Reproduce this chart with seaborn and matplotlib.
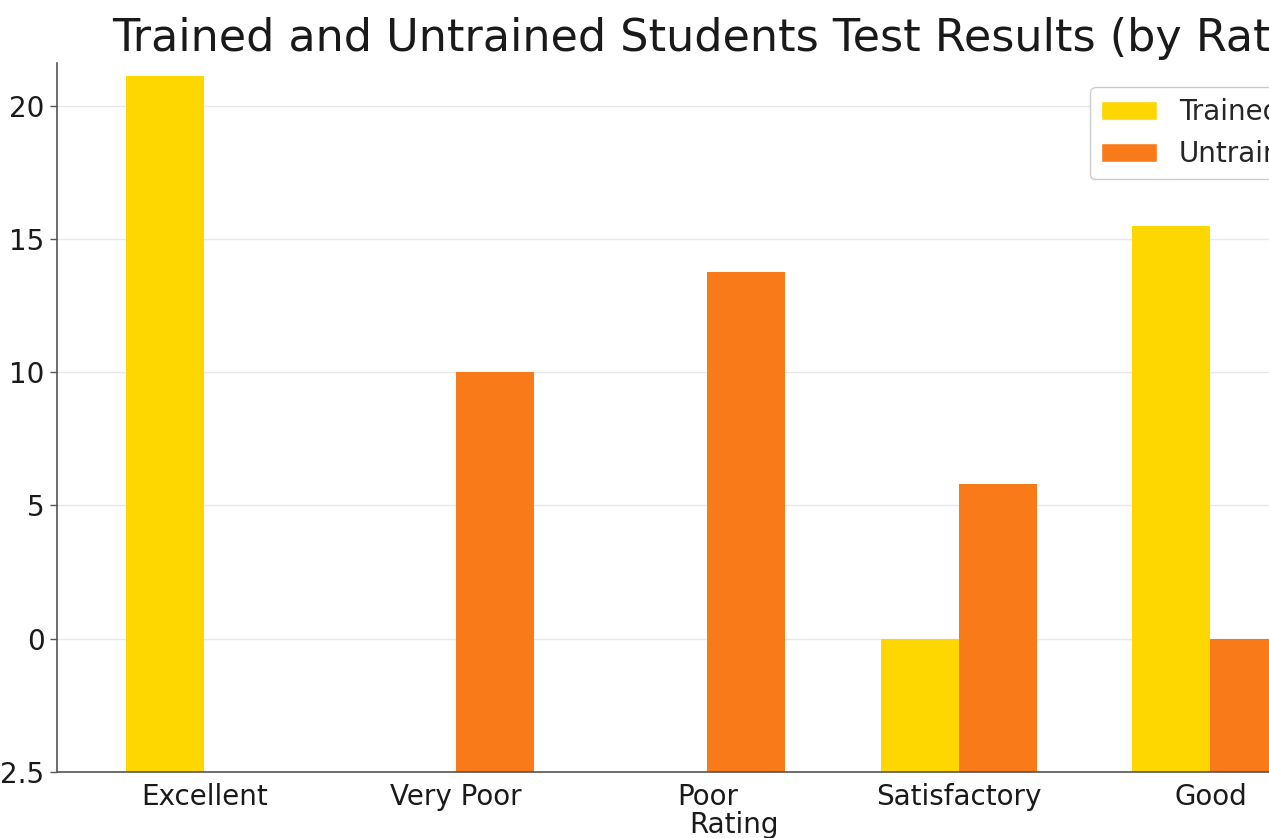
import numpy as np
import pandas as pd
import matplotlib
matplotlib.use("Agg")
import matplotlib.pyplot as plt
import seaborn as sns

# Test results by rating for the two groups (NaN = no result recorded)
ratings = ["Excellent", "Very Poor", "Poor", "Satisfactory", "Good"]
trained = [21.1, np.nan, np.nan, 0.0, 15.5]
untrained = [np.nan, 10.0, 13.75, 5.8, 0.0]
groups = ["Trained", "Untrained"]
group_colors = ["#FFD700", "#F97A19"]

y_ticks = [-2.5, 0, 5, 10, 15, 20]
y_tick_labels = ["-2.5", "0", "5", "10", "15", "20"]
y_floor = -2.5
y_top = 21.6

df = pd.DataFrame({
    "Rating": ratings * 2,
    "Group": [groups[0]] * len(ratings) + [groups[1]] * len(ratings),
    "Score": trained + untrained,
})


# Value axis: the band below zero is drawn at double scale
def _fwd(v):
    v = np.asarray(v, dtype=float)
    return np.where(v < 0, 2.0 * v, v)


def _inv(v):
    v = np.asarray(v, dtype=float)
    return np.where(v < 0, v / 2.0, v)


sns.set_theme(style="whitegrid")
plt.rcParams["font.family"] = ["DejaVu Sans"]

fig = plt.figure(figsize=(12.69, 8.38), dpi=100)
ax = fig.add_axes([0.0449, 0.0788, 1.0675, 0.846])

sns.barplot(
    data=df, x="Rating", y="Score", hue="Group",
    order=ratings, hue_order=groups, palette=group_colors,
    width=0.62, errorbar=None, saturation=1.0, ax=ax, legend=True,
)

# Bars rise from the lower edge of the value axis
for container in ax.containers:
    for bar in container:
        h = bar.get_height()
        if np.isfinite(h):
            bar.set_y(y_floor)
            bar.set_height(h - y_floor)
            bar.set_edgecolor("none")

ax.set_yscale("function", functions=(_fwd, _inv))
ax.set_ylim(y_floor, y_top)
ax.set_xlim(-0.586, 4.8)
ax.set_yticks(y_ticks)
ax.set_yticklabels(y_tick_labels)
ax.yaxis.set_minor_locator(matplotlib.ticker.NullLocator())

ax.grid(axis="y", color="#e8e8e8", linewidth=1.0)
ax.grid(axis="x", visible=False)
ax.set_axisbelow(True)
for side in ["top", "right"]:
    ax.spines[side].set_visible(False)
for side in ["left", "bottom"]:
    ax.spines[side].set_visible(True)
    ax.spines[side].set_color("#555555")
    ax.spines[side].set_linewidth(1.2)

ax.tick_params(axis="y", which="both", left=True, length=5, width=1.0,
               color="#555555", pad=4, labelsize=20, labelcolor="#1a1a1a")
ax.tick_params(axis="x", bottom=False, length=0, pad=8, labelsize=20,
               labelcolor="#1a1a1a")

ax.set_xlabel("Rating", fontsize=20, color="#1a1a1a", labelpad=0)
ax.set_ylabel("")
ax.set_title("Trained and Untrained Students Test Results (by Rating)",
             fontsize=32, color="#1a1a1a", pad=9)

ax.legend(
    loc="upper left", bbox_to_anchor=(1090 / 1269, 1 - 87 / 838),
    bbox_transform=fig.transFigure, borderaxespad=0, fontsize=20,
    frameon=True, facecolor="white", edgecolor="#cccccc", framealpha=1.0,
    title=None,
)

fig.savefig("out.png", dpi=100)
